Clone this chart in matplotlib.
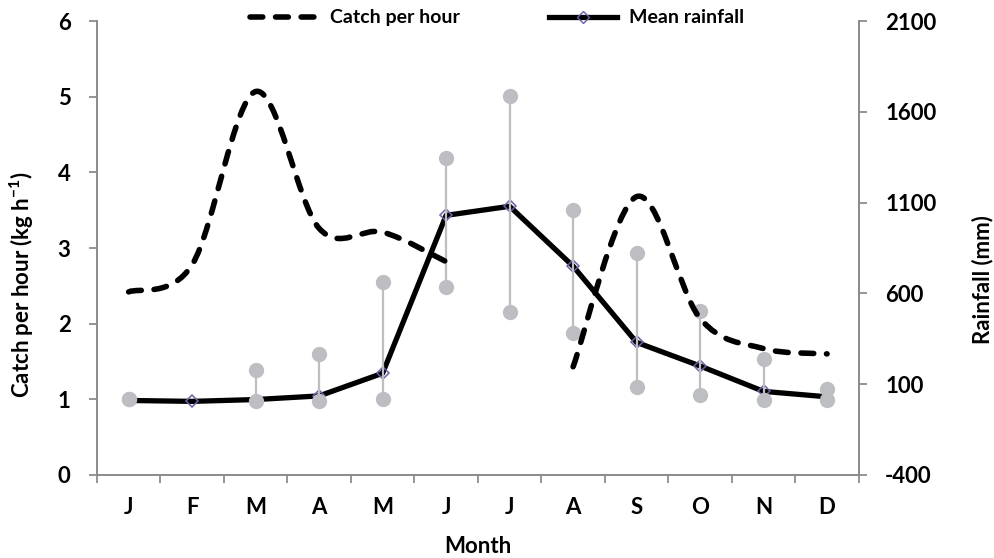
import numpy as np
import matplotlib
matplotlib.use('Agg')
import matplotlib.pyplot as plt
from matplotlib.path import Path
from matplotlib.patches import PathPatch
from matplotlib.lines import Line2D

plt.rcParams['font.family'] = ['Lato', 'DejaVu Sans']
plt.rcParams['font.weight'] = 'bold'
plt.rcParams['axes.labelweight'] = 'bold'
plt.rcParams['axes.unicode_minus'] = False
plt.rcParams['mathtext.fontset'] = 'custom'
plt.rcParams['mathtext.bf'] = 'Lato:bold'
plt.rcParams['mathtext.rm'] = 'Lato:bold'
plt.rcParams['mathtext.default'] = 'bf'

months = ['J', 'F', 'M', 'A', 'M', 'J', 'J', 'A', 'S', 'O', 'N', 'D']
nan = np.nan
catch_rate = [2.42, 2.78, 5.07, 3.26, 3.21, 2.82, nan, 1.43, 3.68, 2.07, 1.67, 1.60]
rain_mean = [10, 5, 15, 35, 160, 1030, 1080, 750, 330, 200, 60, 30]
rain_max = [18, nan, 176, 268, 664, 1346, 1687, 1058, 822, 503, 239, 73]
rain_min = [18, nan, 6, 6, 19, 633, 497, 383, 82, 40, 10, 10]

grey = '#8C8C8C'
dot_grey = '#BCBEC2'


# excel-like smoothed line as bezier path
def smooth_path(xs, ys):
    verts = [(xs[0], ys[0])]
    codes = [Path.MOVETO]
    n = len(xs)
    for i in range(n - 1):
        a = max(i - 1, 0)
        b = min(i + 2, n - 1)
        c1 = (xs[i] + (xs[i + 1] - xs[a]) / 6, ys[i] + (ys[i + 1] - ys[a]) / 6)
        c2 = (xs[i + 1] - (xs[b] - xs[i]) / 6, ys[i + 1] - (ys[b] - ys[i]) / 6)
        verts += [c1, c2, (xs[i + 1], ys[i + 1])]
        codes += [Path.CURVE4] * 3
    return Path(verts, codes)


x = np.arange(len(months))
cr = np.array(catch_rate)

fig = plt.figure(figsize=(9.94, 5.58), dpi=100)
ax = fig.add_axes([0.0975, 0.149, 0.7665, 0.813])
ax2 = ax.twinx()

# rainfall on right axis
ax2.plot(x, rain_mean, color='black', lw=3.8, zorder=2)
ax2.plot(x, rain_mean, 'D', ms=6.5, mfc='none', mec='#6B5FA8', mew=1.1, zorder=2.5)
ax2.vlines(x, rain_min, rain_max, color=dot_grey, lw=1.6, zorder=3)
ax2.plot(x, rain_max, 'o', ms=10, color=dot_grey, zorder=3)
ax2.plot(x, rain_min, 'o', ms=10, color=dot_grey, zorder=3)
ax2.set_ylim(-400, 2100)
ax2.set_yticks(np.arange(-400, 2101, 500))

# catch per hour on left axis, drawn on top
ax.set_zorder(ax2.get_zorder() + 1)
ax.patch.set_visible(False)
ok = ~np.isnan(cr)
start = None
for i in range(len(x) + 1):
    if i < len(x) and ok[i]:
        if start is None:
            start = i
    elif start is not None:
        seg = slice(start, i)
        p = PathPatch(smooth_path(x[seg], cr[seg]), fill=False, color='black',
                      lw=4, linestyle=(0, (2.3, 2.3)), capstyle='round')
        ax.add_patch(p)
        start = None
ax.set_ylim(0, 6)
ax.set_xlim(-0.5, 11.5)

fs = 16
ax.set_xticks(x)
ax.set_xticklabels(months)
ax.set_xticks(np.arange(-0.5, 12), minor=True)
ax.tick_params(axis='x', which='major', length=0, pad=16, labelsize=fs)
ax.tick_params(axis='x', which='minor', length=6, width=1.3, color=grey)
ax.tick_params(axis='y', length=6, width=1.3, color=grey, pad=13, labelsize=fs)
ax2.tick_params(axis='y', length=6, width=1.3, color=grey, pad=13, labelsize=fs)
for lab in ax.get_xticklabels() + ax.get_yticklabels() + ax2.get_yticklabels():
    lab.set_fontweight('bold')

for a in (ax, ax2):
    a.spines['top'].set_visible(False)
    for s in ('left', 'right', 'bottom'):
        a.spines[s].set_color(grey)
        a.spines[s].set_linewidth(1.3)

ax.set_xlabel('Month', fontsize=fs, fontweight='bold', labelpad=13)
ax.set_ylabel(r'Catch per hour (kg h$^{-1}$)', fontsize=fs, fontweight='bold')
ax.yaxis.set_label_coords(-0.08, 0.42)
ax2.set_ylabel('Rainfall (mm)', fontsize=fs, fontweight='bold')
ax2.yaxis.set_label_coords(1.148, 0.43)

handles = [Line2D([], [], color='black', lw=4, linestyle=(0, (2.3, 2.3)), dash_capstyle='round'),
           Line2D([0, 0.5, 1], [0, 0, 0], color='black', lw=3.8, marker='D', ms=6.5, mfc='none',
                  mec='#6B5FA8', markevery=[1])]
fig.legend(handles, ['Catch per hour', 'Mean rainfall'], loc='center',
           bbox_to_anchor=(0.5, 0.968), ncol=2, frameon=False, handlelength=3.5,
           columnspacing=4.6, handletextpad=0.6, prop={'size': 14, 'weight': 'bold'})

fig.savefig('out.png', dpi=100)
